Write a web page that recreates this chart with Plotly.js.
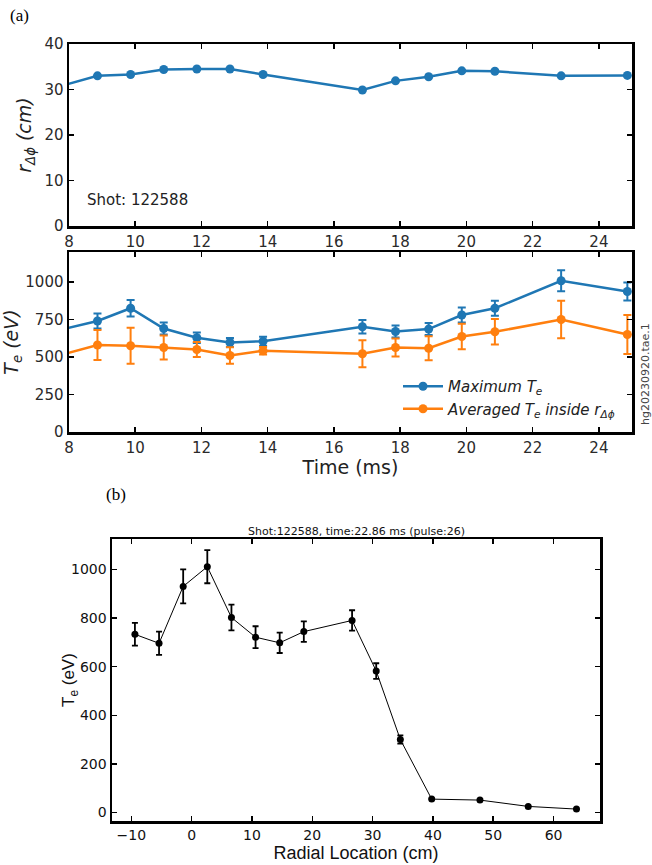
<!DOCTYPE html>
<html>
<head>
<meta charset="utf-8">
<script src="https://cdn.plot.ly/plotly-3.0.1.min.js"></script>
<style>html,body{margin:0;padding:0;background:#fff;}#chart{width:652px;height:865px;}</style>
</head>
<body>
<div id="chart"></div>
<script>
// ---- Panel (a): time traces ----
const time = [7.86, 8.86, 9.86, 10.86, 11.86, 12.86, 13.86, 16.86, 17.86, 18.86, 19.86, 20.86, 22.86, 24.86];
const rDeltaPhi = [31.0, 33.0, 33.3, 34.4, 34.5, 34.5, 33.3, 29.9, 31.9, 32.8, 34.1, 34.0, 33.0, 33.1];
const teMax = [688, 740, 825, 690, 628, 597, 605, 702, 670, 686, 780, 825, 1008, 937];
const teMaxErr = [45, 50, 55, 40, 35, 30, 30, 45, 40, 40, 50, 50, 70, 60];
const teAvg = [520, 580, 575, 563, 550, 510, 542, 522, 563, 558, 637, 668, 750, 650];
const teAvgErr = [90, 100, 120, 80, 50, 55, 25, 90, 60, 80, 85, 85, 125, 130];
const timeTicks = [8, 10, 12, 14, 16, 18, 20, 22, 24];
const rTicks = [0, 10, 20, 30, 40];
const teTicks = [0, 250, 500, 750, 1000];

// ---- Panel (b): radial profile ----
const radial = [-9.4, -5.4, -1.4, 2.6, 6.6, 10.6, 14.6, 18.6, 26.6, 30.6, 34.6, 39.8, 47.8, 55.8, 63.8];
const teProfile = [733, 696, 930, 1011, 802, 721, 698, 744, 790, 582, 300, 55, 51, 25, 14];
const teProfileErr = [47, 48, 70, 68, 53, 45, 42, 42, 42, 32, 17, 0, 0, 0, 0];
const radialTicks = [-10, 0, 10, 20, 30, 40, 50, 60];
const profTicks = [0, 200, 400, 600, 800, 1000];

const W = 652, H = 865;
const px = v => v / W;
const py = v => 1 - v / H;

const blue = '#1f77b4', orange = '#ff7f0e';
const tickFontA = {family: 'DejaVu Sans', size: 15, color: '#2a2a2a'};
const tickFontB = {family: 'DejaVu Sans', size: 14, color: '#111'};

const traces = [
  {x: time, y: rDeltaPhi, xaxis: 'x', yaxis: 'y', mode: 'lines+markers', showlegend: false,
   line: {color: blue, width: 2.5}, marker: {color: blue, size: 9}},
  {x: time, y: teMax, xaxis: 'x2', yaxis: 'y2', mode: 'lines+markers', name: '<i>Maximum T<sub>e</sub></i>',
   line: {color: blue, width: 2.5}, marker: {color: blue, size: 9},
   error_y: {type: 'data', array: teMaxErr, visible: true, color: blue, thickness: 2, width: 4}},
  {x: time, y: teAvg, xaxis: 'x2', yaxis: 'y2', mode: 'lines+markers', name: '<i>Averaged T<sub>e</sub> inside r<sub>Δϕ</sub></i>',
   line: {color: orange, width: 2.5}, marker: {color: orange, size: 9},
   error_y: {type: 'data', array: teAvgErr, visible: true, color: orange, thickness: 2, width: 4}},
  {x: radial, y: teProfile, xaxis: 'x3', yaxis: 'y3', mode: 'lines+markers', showlegend: false,
   line: {color: '#000', width: 1}, marker: {color: '#000', size: 7},
   error_y: {type: 'data', array: teProfileErr, visible: true, color: '#000', thickness: 1.8, width: 3}}
];

const axBase = {showgrid: false, zeroline: false, showline: true, linecolor: '#000', linewidth: 2.5,
  mirror: 'allticks', ticks: 'inside', ticklen: 5, tickwidth: 1.5, tickcolor: '#000'};

const layout = {
  width: W, height: H, margin: {l: 0, r: 0, t: 0, b: 0},
  paper_bgcolor: '#fff', plot_bgcolor: '#fff',
  showlegend: true,
  legend: {x: px(398), y: py(370), xanchor: 'left', yanchor: 'top', bgcolor: 'rgba(0,0,0,0)',
    font: {family: 'DejaVu Sans', size: 15, color: '#222'}, itemwidth: 40, tracegroupgap: 0},
  xaxis: Object.assign({}, axBase, {domain: [px(69), px(632)], anchor: 'y', range: [8, 25],
    tickvals: timeTicks, tickfont: tickFontA}),
  yaxis: Object.assign({}, axBase, {domain: [py(226), py(44)], anchor: 'x', range: [0, 40],
    tickvals: rTicks, tickfont: tickFontA,
    title: {text: '<i>r<sub>Δϕ</sub> (cm)</i>', font: {family: 'DejaVu Sans', size: 19, color: '#222'}, standoff: 8}}),
  xaxis2: Object.assign({}, axBase, {domain: [px(69), px(632)], anchor: 'y2', range: [8, 25],
    tickvals: timeTicks, tickfont: tickFontA,
    title: {text: 'Time (ms)', font: {family: 'DejaVu Sans', size: 19, color: '#222'}, standoff: 5}}),
  yaxis2: Object.assign({}, axBase, {domain: [py(432), py(252)], anchor: 'x2', range: [0, 1200],
    tickvals: teTicks, tickfont: tickFontA,
    title: {text: '<i>T<sub>e</sub> (eV)</i>', font: {family: 'DejaVu Sans', size: 19, color: '#222'}, standoff: 8}}),
  xaxis3: Object.assign({}, axBase, {domain: [px(112), px(600)], anchor: 'y3', range: [-13.2, 67.7],
    tickvals: radialTicks, tickfont: tickFontB, linewidth: 2.5,
    title: {text: 'Radial Location (cm)', font: {family: 'Liberation Sans', size: 18, color: '#111'}, standoff: 4}}),
  yaxis3: Object.assign({}, axBase, {domain: [py(821), py(539)], anchor: 'x3', range: [-35, 1125],
    tickvals: profTicks, tickfont: tickFontB, linewidth: 2.5}),
  annotations: [
    {text: '(a)', x: px(8), y: py(15), xref: 'paper', yref: 'paper', xanchor: 'left', yanchor: 'middle', showarrow: false,
     font: {family: 'Liberation Serif', size: 17, color: '#000'}},
    {text: '(b)', x: px(104), y: py(494), xref: 'paper', yref: 'paper', xanchor: 'left', yanchor: 'middle', showarrow: false,
     font: {family: 'Liberation Serif', size: 17, color: '#000'}},
    {text: 'Shot: 122588', x: px(85), y: py(200), xref: 'paper', yref: 'paper', xanchor: 'left', yanchor: 'middle', showarrow: false,
     font: {family: 'DejaVu Sans', size: 15, color: '#222'}},
    {text: 'hg20230920.tae.1', x: px(645), y: py(374), xref: 'paper', yref: 'paper', xanchor: 'center', yanchor: 'middle', showarrow: false,
     textangle: -90, font: {family: 'DejaVu Sans', size: 11, color: '#444'}},
    {text: 'Shot:122588, time:22.86 ms (pulse:26)', x: px(357), y: py(531), xref: 'paper', yref: 'paper', xanchor: 'center', yanchor: 'middle', showarrow: false,
     font: {family: 'DejaVu Sans', size: 11, color: '#111'}},
    {text: 'T<sub>e</sub> (eV)', x: px(70), y: py(680), xref: 'paper', yref: 'paper', xanchor: 'center', yanchor: 'middle', showarrow: false,
     textangle: -90, font: {family: 'Liberation Sans', size: 17, color: '#111'}}
  ]
};

Plotly.newPlot('chart', traces, layout, {displayModeBar: false, staticPlot: true});
</script>
</body>
</html>
